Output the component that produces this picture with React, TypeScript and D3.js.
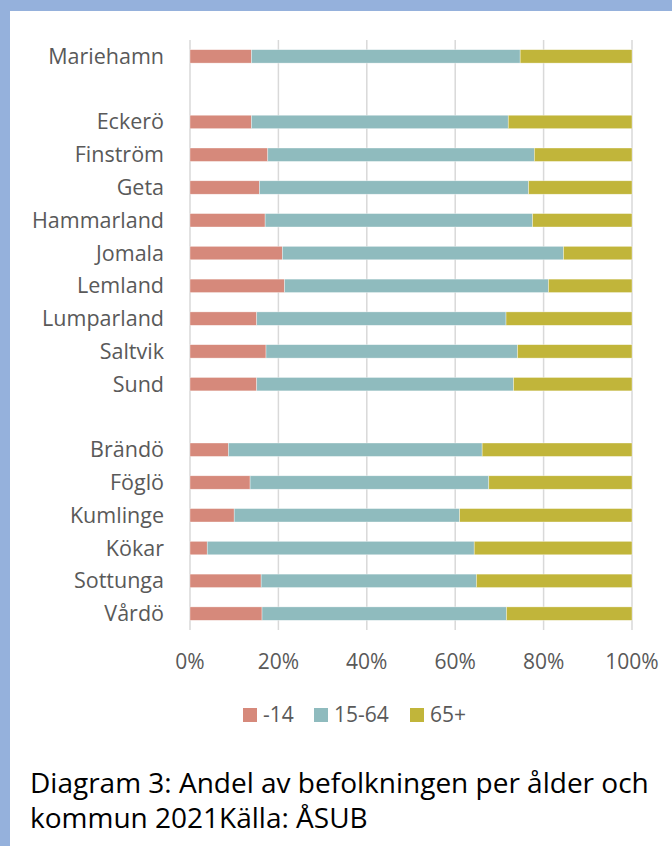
import React from "react";
import * as d3 from "d3";

const categories = ["Mariehamn", "", "Eckerö", "Finström", "Geta", "Hammarland", "Jomala", "Lemland", "Lumparland", "Saltvik", "Sund", "", "Brändö", "Föglö", "Kumlinge", "Kökar", "Sottunga", "Vårdö"];
const young = [13.9, 0, 13.9, 17.6, 15.7, 17.0, 20.9, 21.4, 15.1, 17.2, 15.1, 0, 8.7, 13.6, 10.0, 3.9, 16.1, 16.3];
const working = [60.8, 0, 58.1, 60.3, 60.9, 60.5, 63.6, 59.7, 56.4, 56.9, 58.1, 0, 57.4, 54.0, 51.0, 60.4, 48.7, 55.3];
const old = [25.3, 0, 28.0, 22.1, 23.4, 22.5, 15.5, 18.9, 28.5, 25.9, 26.8, 0, 33.9, 32.4, 39.0, 35.7, 35.2, 28.4];
const seriesNames = ["-14", "15-64", "65+"];
const seriesColors = ["#D6897B", "#8FBBBE", "#C1B53A"];
const xTicks = [0, 20, 40, 60, 80, 100];

export default function App() {
  const W = 672, H = 846;
  const x = d3.scaleLinear().domain([0, 100]).range([190, 632]);
  const y = d3.scaleBand<number>().domain(categories.map((_, i) => i)).range([40, 630]).paddingInner(0.59).paddingOuter(0.295);
  const rows = categories.map((c, i) => ({ i, c, a: young[i], b: working[i], o: old[i] }));
  const stack = d3.stack<any>().keys(["a", "b", "o"]);
  const stacked = stack(rows);
  const font = "'Open Sans', 'Noto Sans', sans-serif";
  const legendX = [243, 314, 410];
  return (
    <div style={{ position: "absolute", left: 0, top: 0 }}>
      <svg width={W} height={H} style={{ display: "block" }}>
        <rect x={0} y={0} width={W} height={H} fill="#ffffff" />
        <rect x={0} y={0} width={W} height={11} fill="#95B1DC" />
        <rect x={0} y={0} width={10} height={H} fill="#95B1DC" />
        {xTicks.map((t) => (
          <line key={t} x1={x(t)} x2={x(t)} y1={40} y2={630} stroke="#D9D9D9" strokeWidth={1.5} />
        ))}
        {stacked.map((s, si) => (
          <g key={si} fill={seriesColors[si]}>
            {s.map((d, j) =>
              categories[j] === "" ? null : (
                <rect key={j} x={x(d[0])} y={y(j)} width={x(d[1]) - x(d[0])} height={y.bandwidth()} stroke="#ffffff" strokeOpacity={0.6} strokeWidth={0.6} />
              )
            )}
          </g>
        ))}
        {categories.map((c, i) =>
          c === "" ? null : (
            <text key={i} x={164} y={(y(i) as number) + y.bandwidth() / 2} dy="0.35em" textAnchor="end" fontFamily={font} fontSize={21.5} fill="#595959">
              {c}
            </text>
          )
        )}
        {xTicks.map((t) => (
          <text key={t} x={x(t)} y={662} dy="0.35em" textAnchor="middle" fontFamily={font} fontSize={21} fill="#595959">
            {t + "%"}
          </text>
        ))}
        {seriesNames.map((n, i) => (
          <g key={n}>
            <rect x={legendX[i]} y={708} width={14} height={14} fill={seriesColors[i]} />
            <text x={legendX[i] + 20} y={715} dy="0.35em" fontFamily={font} fontSize={21} fill="#595959">{n}</text>
          </g>
        ))}
        <text x={30} y={783} dy="0.35em" fontFamily={font} fontSize={28} fill="#000000">Diagram 3: Andel av befolkningen per ålder och</text>
        <text x={30} y={818} dy="0.35em" fontFamily={font} fontSize={28} fill="#000000">kommun 2021Källa: ÅSUB</text>
      </svg>
    </div>
  );
}
